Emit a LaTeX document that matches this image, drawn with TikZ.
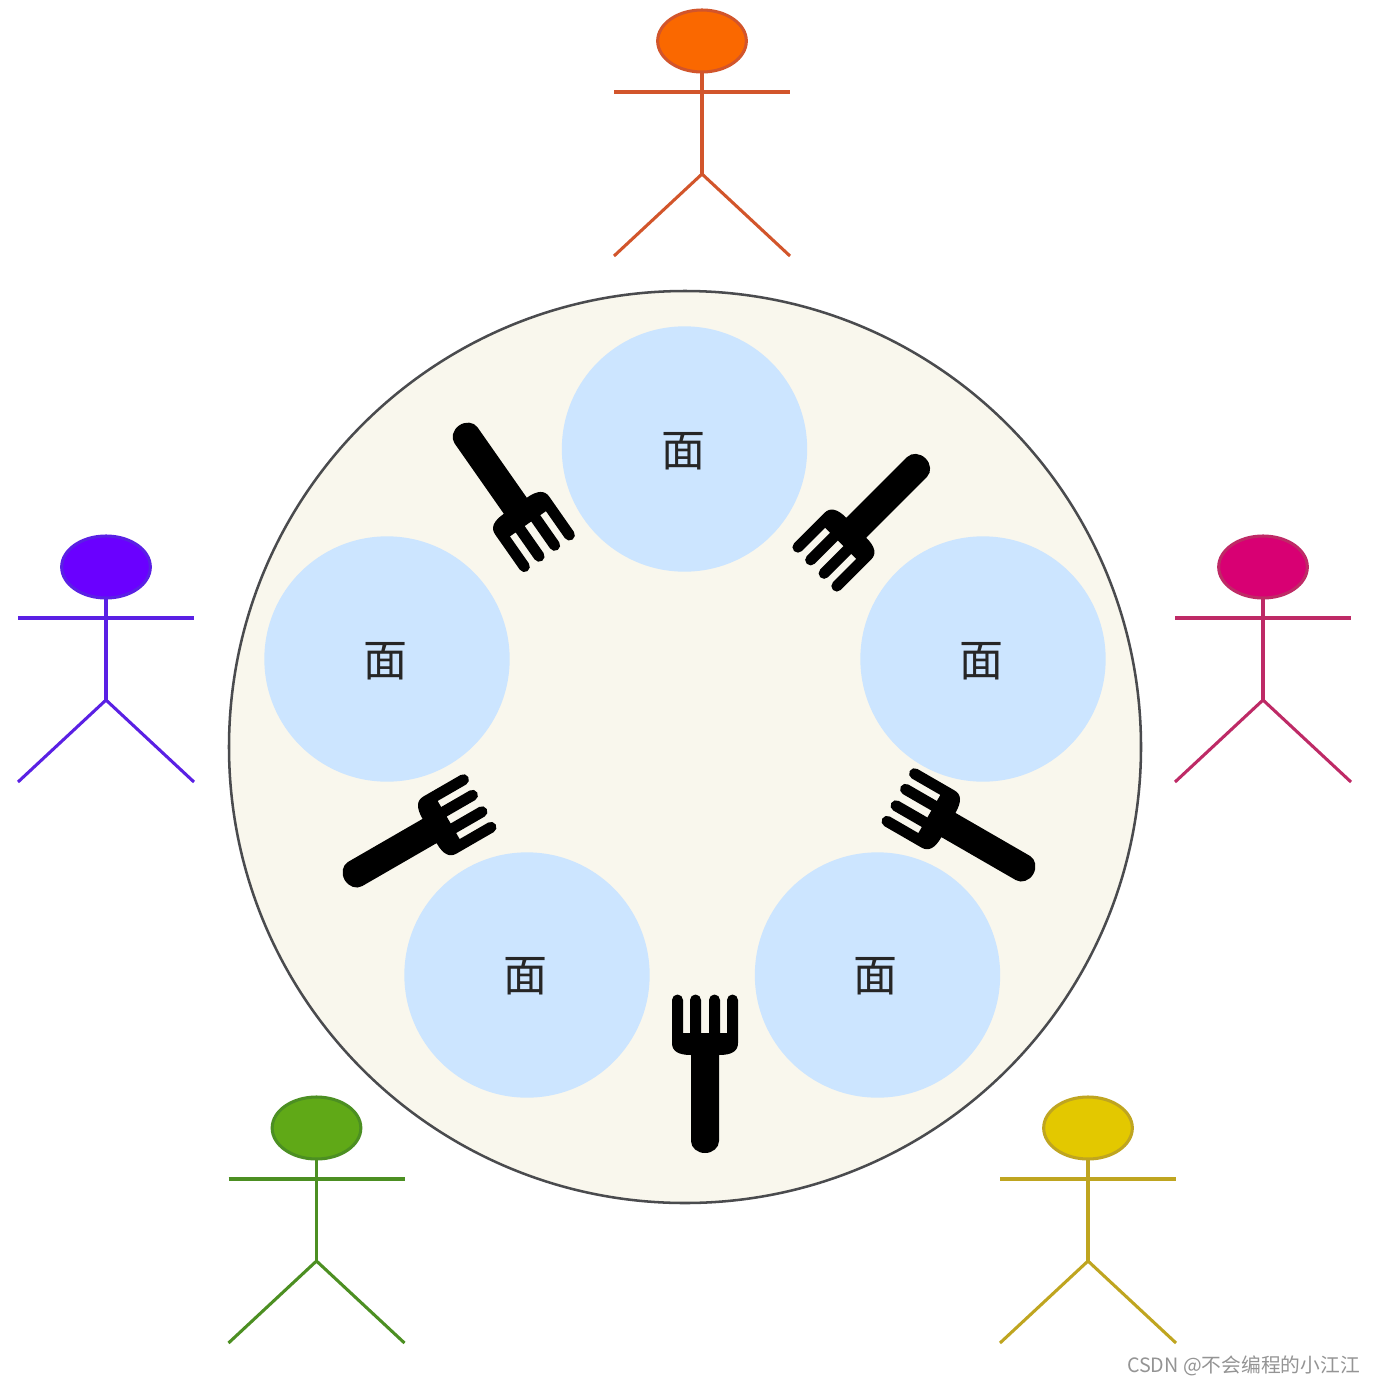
\documentclass[tikz,border=0pt]{standalone}
\usetikzlibrary{shapes.geometric}
\usepackage{fontspec}
\newfontfamily\cjk{Noto Sans CJK SC}
\definecolor{tablefill}{HTML}{F9F7ED}
\definecolor{tableline}{HTML}{4A4B4E}
\definecolor{platefill}{HTML}{CCE5FF}
\definecolor{orangeF}{HTML}{FA6800}
\definecolor{orangeS}{HTML}{D2552B}
\definecolor{purpleF}{HTML}{6A00FF}
\definecolor{purpleS}{HTML}{5A20E4}
\definecolor{pinkF}{HTML}{D80073}
\definecolor{pinkS}{HTML}{BE2A66}
\definecolor{greenF}{HTML}{60A917}
\definecolor{greenS}{HTML}{4C8F22}
\definecolor{yellowF}{HTML}{E3C800}
\definecolor{yellowS}{HTML}{BFA520}
\tikzset{
  x=0.75pt,y=-0.75pt,
  tabledisc/.style={circle,draw=tableline,fill=tablefill,line width=1.9pt,minimum size=684pt,inner sep=0pt},
  platedisc/.style={circle,fill=platefill,minimum size=184pt,inner sep=0pt},
  mian/.style={font=\cjk\fontsize{33}{33}\selectfont,text=black!85,inner sep=0pt},
  mark note/.style={font=\cjk\fontsize{14.8}{16}\selectfont,text=black!42,inner sep=0pt},
  limb/.style={line width=2.3pt,line cap=butt},
  forkpic/.pic={
    \fill[black]
      (-33,-73) arc[start angle=180,end angle=360,radius=5.5] -- (-22,-40) -- (-15,-40)
      -- (-15,-73) arc[start angle=180,end angle=360,radius=5.5] -- (-4,-40) -- (4,-40)
      -- (4,-73) arc[start angle=180,end angle=360,radius=5.5] -- (15,-40) -- (22,-40)
      -- (22,-73) arc[start angle=180,end angle=360,radius=5.5] -- (33,-30)
      .. controls (33,-22) and (27,-18) .. (14,-18)
      -- (14,68) arc[start angle=0,end angle=180,x radius=14,y radius=12]
      -- (-14,-18) .. controls (-27,-18) and (-33,-22) .. (-33,-30) -- cycle;
  }
}
\begin{document}
\begin{tikzpicture}
\useasboundingbox (0,0) rectangle (1375,1385);
\fill[white] (0,0) rectangle (1375,1385);

\node[tabledisc] (table) at (685,747) {};

\foreach \n/\x/\y/\tx/\ty in {a/684.5/449/683/451, b/983/659/981/661, c/387/659/385/661, d/527/975/525/976, e/877.5/975/875.5/976}{
  \node[platedisc] (plate\n) at (\x,\y) {};
  \node[mian] (text\n) at (\tx,\ty) {面};
}

\pic (forkA) at (705,1073) {forkpic};
\pic[rotate=215] (forkB) at (505,491) {forkpic};
\pic[rotate=135] (forkC) at (869,515) {forkpic};
\pic[rotate=60] (forkD) at (964,834) {forkpic};
\pic[rotate=-60] (forkE) at (414,840) {forkpic};

\foreach \n/\x/\y/\c in {p1/702/41/orange, p2/106/567/purple, p3/1263/567/pink, p4/316.5/1128/green, p5/1088/1128/yellow}{
  \begin{scope}[shift={(\x,\y)}]
    \node[ellipse,draw=\c S,fill=\c F,line width=2.3pt,minimum width=66.5pt,minimum height=46.5pt,inner sep=0pt] (head\n) at (0,0) {};
    \coordinate (neck\n) at (0,31);
    \coordinate (hip\n) at (0,133);
    \coordinate (armL\n) at (-88,51);
    \coordinate (armR\n) at (88,51);
    \coordinate (footL\n) at (-88,215);
    \coordinate (footR\n) at (88,215);
    \draw[limb,draw=\c S] (neck\n) -- (hip\n);
    \draw[limb,draw=\c S] (armL\n) -- (armR\n);
    \draw[limb,draw=\c S] (footL\n) -- (hip\n) -- (footR\n);
  \end{scope}
}

\node[mark note,anchor=east] (mark) at (1360,1366) {CSDN @不会编程的小江江};
\end{tikzpicture}
\end{document}
